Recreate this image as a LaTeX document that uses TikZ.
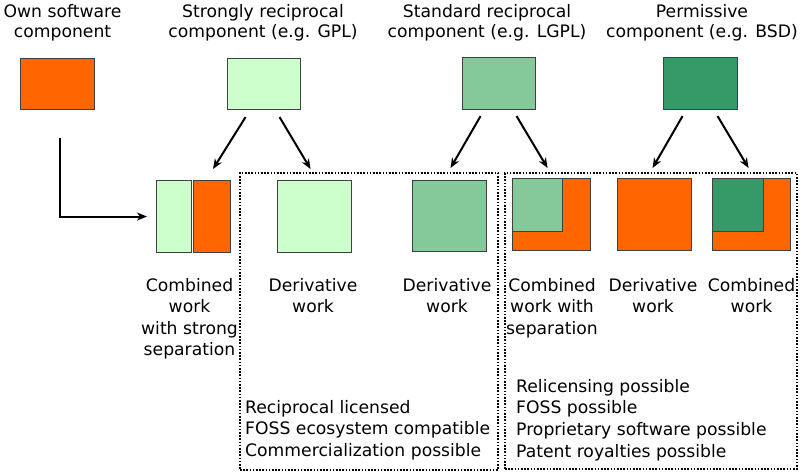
\documentclass[tikz,border=0pt]{standalone}
\usepackage{fontspec}
\setmainfont{DejaVu Sans}
\usetikzlibrary{arrows.meta,calc}
\definecolor{orng}{HTML}{FF6600}
\definecolor{lgreen}{HTML}{CCFFCC}
\definecolor{mgreen}{HTML}{85C899}
\definecolor{dgreen}{HTML}{359968}
\newcommand\mlc[1]{\begin{tabular}[t]{@{}c@{}}#1\end{tabular}}
\newcommand\mll[1]{\begin{tabular}[t]{@{}l@{}}#1\end{tabular}}
\begin{document}
\begin{tikzpicture}[x=1pt,y=-1pt,
  box/.style={draw=black!75, line width=1.1pt, inner sep=0pt, anchor=north west},
  arr/.style={-{Stealth[length=10pt,width=8pt,inset=3pt]}, line width=2pt},
  frame/.style={draw, line width=1.8pt, dash pattern=on 1.6pt off 1.6pt, inner sep=0pt, anchor=north west},
  ttl/.style={inner sep=0pt, anchor=base, font=\fontsize{17.2}{20.5}\selectfont},
  lbl/.style={inner sep=0pt, anchor=base, font=\fontsize{17.2}{21.5}\selectfont},
  blk/.style={inner sep=0pt, anchor=base west, font=\fontsize{17.2}{21.8}\selectfont}]
\useasboundingbox (0,0) rectangle (800,472);
% top components
\node[box, fill=orng, minimum width=74pt, minimum height=51pt] (own) at (20,58) {};
\node[box, fill=lgreen, minimum width=73pt, minimum height=51pt] (gpl) at (227,58) {};
\node[box, fill=mgreen, minimum width=73pt, minimum height=52pt] (lgpl) at (462,57) {};
\node[box, fill=dgreen, minimum width=74pt, minimum height=52pt] (bsd) at (663,57) {};
% titles
\node[ttl] (t1) at (62.5,17) {\mlc{Own software\\component}};
\node[ttl] (t2) at (263,17) {\mlc{Strongly reciprocal\\component (e.g. GPL)}};
\node[ttl] (t3) at (487,17) {\mlc{Standard reciprocal\\component (e.g. LGPL)}};
\node[ttl] (t4) at (702,17) {\mlc{Permissive\\component (e.g. BSD)}};
% frames
\node[frame, minimum width=258pt, minimum height=297pt] (f1) at (239,172) {};
\node[frame, minimum width=292pt, minimum height=296pt] (f2) at (504,172) {};
% bottom works
\node[box, fill=lgreen, minimum width=35pt, minimum height=72pt] (comb1g) at (156,180) {};
\node[box, fill=orng, minimum width=37pt, minimum height=72pt] (comb1o) at (193,180) {};
\node[box, fill=lgreen, minimum width=74pt, minimum height=72pt] (der1) at (277,180) {};
\node[box, fill=mgreen, minimum width=74pt, minimum height=71pt] (der2) at (412,180) {};
\node[box, fill=orng, minimum width=78pt, minimum height=72pt] (comb2o) at (512,178) {};
\node[box, fill=mgreen, minimum width=50pt, minimum height=53pt] (comb2g) at (512,178) {};
\node[box, fill=orng, minimum width=74pt, minimum height=72pt] (der3) at (617,178) {};
\node[box, fill=orng, minimum width=78pt, minimum height=72pt] (comb3o) at (712,178) {};
\node[box, fill=dgreen, minimum width=51pt, minimum height=53pt] (comb3g) at (712,178) {};
% arrows
\draw[arr] ([xshift=-18.5pt,yshift=-7pt]gpl.south) -- ([xshift=20pt,yshift=11pt]comb1o.north west);
\draw[arr] ([xshift=15.5pt,yshift=-7pt]gpl.south) -- ([xshift=-4pt,yshift=11pt]der1.north);
\draw[arr] ([xshift=-18.5pt,yshift=-6pt]lgpl.south) -- ([xshift=1pt,yshift=12pt]der2.north);
\draw[arr] ([xshift=17.5pt,yshift=-6pt]lgpl.south) -- ([xshift=-4pt,yshift=10pt]comb2o.north);
\draw[arr] ([xshift=-18pt,yshift=-6pt]bsd.south) -- ([xshift=-2pt,yshift=10pt]der3.north);
\draw[arr] ([xshift=17pt,yshift=-6pt]bsd.south) -- ([xshift=-3pt,yshift=10pt]comb3o.north);
\draw[arr] ([xshift=2pt,yshift=-28pt]own.south) |- ([xshift=-9pt]comb1g.west);
% labels
\node[lbl] (l1) at (189.5,291) {\mlc{Combined\\work\\with strong\\separation}};
\node[lbl] (l2) at (313,291) {\mlc{Derivative\\work}};
\node[lbl] (l3) at (447,291) {\mlc{Derivative\\work}};
\node[lbl] (l4) at (552,291) {\mlc{Combined\\work with\\separation}};
\node[lbl] (l5) at (653,291) {\mlc{Derivative\\work}};
\node[lbl] (l6) at (751.5,291) {\mlc{Combined\\work}};
% blocks
\node[blk] (b1) at (245,413) {\mll{Reciprocal licensed\\FOSS ecosystem compatible\\Commercialization possible}};
\node[blk] (b2) at (516,392) {\mll{Relicensing possible\\FOSS possible\\Proprietary software possible\\Patent royalties possible}};
\end{tikzpicture}
\end{document}
